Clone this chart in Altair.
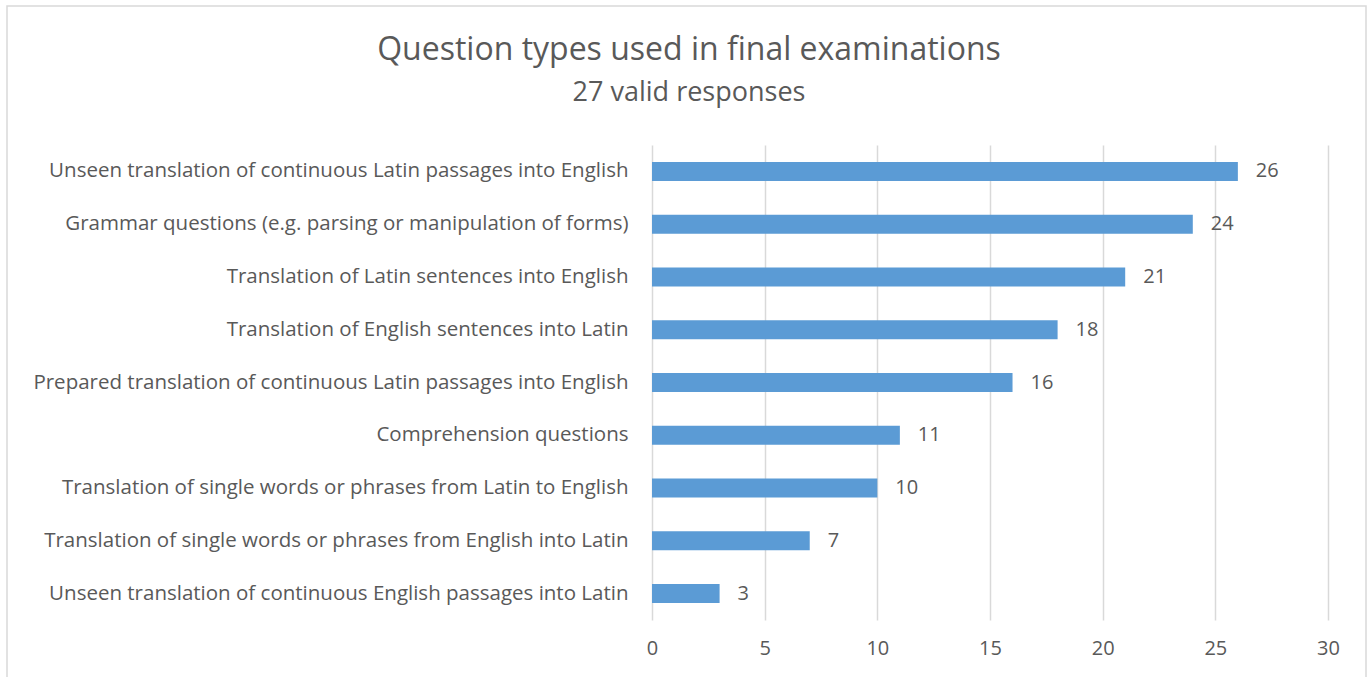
import altair as alt
import pandas as pd

categories = [
    "Unseen translation of continuous Latin passages into English",
    "Grammar questions (e.g. parsing or manipulation of forms)",
    "Translation of Latin sentences into English",
    "Translation of English sentences into Latin",
    "Prepared translation of continuous Latin passages into English",
    "Comprehension questions",
    "Translation of single words or phrases from Latin to English",
    "Translation of single words or phrases from English into Latin",
    "Unseen translation of continuous English passages into Latin",
]
values = [26, 24, 21, 18, 16, 11, 10, 7, 3]

df = pd.DataFrame({"category": categories, "value": values})

FONT = "Open Sans"
GRAY = "#595959"

y_enc = alt.Y("category:N", sort=categories, title=None,
              scale=alt.Scale(paddingInner=0.64, paddingOuter=0.32),
              axis=alt.Axis(labelFontSize=20.5, labelColor=GRAY, labelFont=FONT,
                            labelPadding=24, ticks=False, domain=False, labelLimit=700))
x_enc = alt.X("value:Q", title=None,
              scale=alt.Scale(domain=[0, 30], nice=False),
              axis=alt.Axis(values=[0, 5, 10, 15, 20, 25, 30], labelFontSize=20,
                            labelColor=GRAY, labelFont=FONT, labelPadding=18,
                            labelFlush=False, labelBound=False,
                            ticks=False, domain=False, grid=True,
                            gridColor="#d9d9d9", gridWidth=1.5))

base = alt.Chart(df)

bars = base.mark_bar(color="#5B9BD5").encode(y=y_enc, x=x_enc)
labels = base.mark_text(align="left", baseline="middle", dx=18, fontSize=20,
                        font=FONT, color=GRAY).encode(
    y=alt.Y("category:N", sort=categories), x="value:Q", text="value:Q")

border = alt.Chart(pd.DataFrame({"a": [0]})).mark_rect(
    fill=None, stroke="#d9d9d9", strokeWidth=1.5).encode(
    x=alt.value(7 - 652), x2=alt.value(1366 - 652),
    y=alt.value(6 - 145), y2=alt.value(720 - 145))

title = alt.Chart(pd.DataFrame({"t": ["Question types used in final examinations"]})).mark_text(
    fontSize=32, font=FONT, color=GRAY, align="center", baseline="middle").encode(
    x=alt.value(689 - 652), y=alt.value(50 - 145), text="t:N")
subtitle = alt.Chart(pd.DataFrame({"t": ["27 valid responses"]})).mark_text(
    fontSize=27, font=FONT, color=GRAY, align="center", baseline="middle").encode(
    x=alt.value(689 - 652), y=alt.value(93 - 145), text="t:N")

chart = alt.layer(border, bars, labels, title, subtitle).properties(
    width=676, height=475,
    autosize=alt.AutoSizeParams(type="none"),
    padding={"left": 652, "top": 145, "right": 42, "bottom": 57},
).configure(background="white", view=alt.ViewConfig(stroke=None))

chart.save("out.html", embed_options={"renderer": "svg", "actions": False})
